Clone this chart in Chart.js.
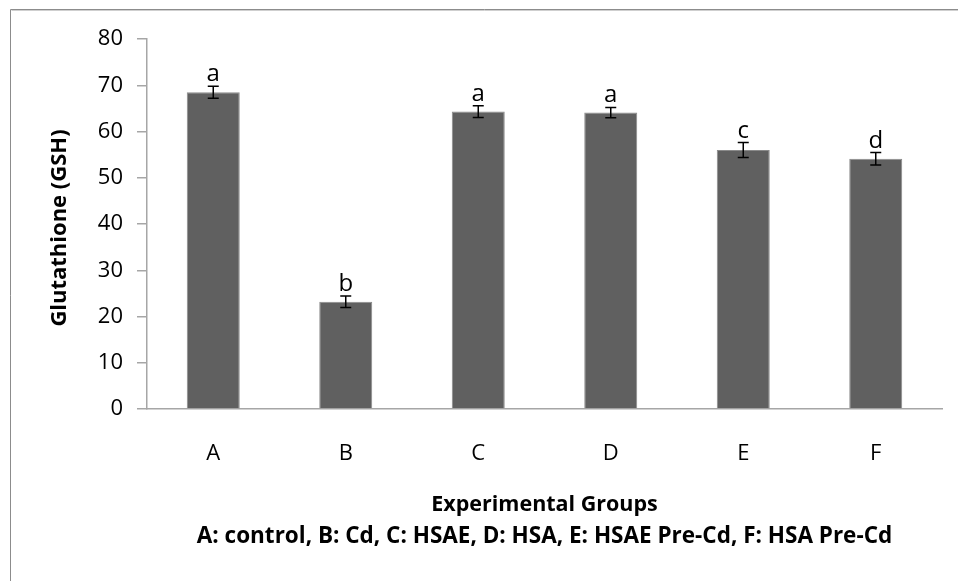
<!DOCTYPE html>
<html>
<head>
<meta charset="utf-8">
<script src="https://cdn.jsdelivr.net/npm/chart.js@4/dist/chart.umd.min.js"></script>
<style>
  html, body { margin: 0; padding: 0; background: #ffffff; }
  #wrap { width: 958px; height: 581px; position: relative; }
</style>
</head>
<body>
<div id="wrap"><canvas id="c" width="958" height="581"></canvas></div>
<script>
const categories = ['A', 'B', 'C', 'D', 'E', 'F'];
const gshValues = [68.5, 23.2, 64.3, 64.1, 56.0, 54.1];
const gshErrors = [1.3, 1.25, 1.25, 1.1, 1.6, 1.35];
const sigLetters = ['a', 'b', 'a', 'a', 'c', 'd'];
const yTicks = [0, 10, 20, 30, 40, 50, 60, 70, 80];
const yTitle = 'Glutathione (GSH)';
const xTitleLines = ['Experimental Groups', 'A: control, B: Cd, C: HSAE, D: HSA, E: HSAE Pre-Cd, F: HSA Pre-Cd'];

const FONT = '"Open Sans", "DejaVu Sans", sans-serif';
const AXIS_GRAY = '#a6a6a6';

const framePlugin = {
  id: 'frame',
  beforeDraw(chart) {
    const ctx = chart.ctx;
    ctx.save();
    ctx.strokeStyle = '#8c8c8c';
    ctx.lineWidth = 1;
    ctx.beginPath();
    ctx.moveTo(10.5, chart.height);
    ctx.lineTo(10.5, 9.5);
    ctx.lineTo(chart.width, 9.5);
    ctx.stroke();
    ctx.strokeStyle = '#cfcfcf';
    ctx.beginPath();
    ctx.moveTo(chart.width, 10.5);
    ctx.lineTo(11.5, 10.5);
    ctx.stroke();
    ctx.restore();
  }
};

const errorPlugin = {
  id: 'errorBars',
  afterDatasetsDraw(chart) {
    const ctx = chart.ctx;
    const meta = chart.getDatasetMeta(0);
    const ys = chart.scales.y;
    ctx.save();
    ctx.strokeStyle = '#000000';
    ctx.lineWidth = 1.5;
    ctx.fillStyle = '#000000';
    ctx.font = '24px ' + FONT;
    ctx.textAlign = 'center';
    ctx.textBaseline = 'alphabetic';
    meta.data.forEach((bar, i) => {
      const x = bar.x;
      const top = ys.getPixelForValue(gshValues[i] + gshErrors[i]);
      const bot = ys.getPixelForValue(gshValues[i] - gshErrors[i]);
      const cap = 5.5;
      ctx.beginPath();
      ctx.moveTo(x, top); ctx.lineTo(x, bot);
      ctx.moveTo(x - cap, top); ctx.lineTo(x + cap, top);
      ctx.moveTo(x - cap, bot); ctx.lineTo(x + cap, bot);
      ctx.stroke();
      ctx.fillText(sigLetters[i], x, top - 5);
    });
    ctx.restore();
  }
};

const titlesPlugin = {
  id: 'titles',
  afterDraw(chart) {
    const ctx = chart.ctx;
    const area = chart.chartArea;
    ctx.save();
    ctx.fillStyle = '#000000';
    ctx.textAlign = 'center';
    ctx.textBaseline = 'middle';
    ctx.font = 'bold 22px ' + FONT;
    ctx.translate(60, (area.top + area.bottom) / 2 + 4);
    ctx.rotate(-Math.PI / 2);
    ctx.fillText(yTitle, 0, 0);
    ctx.restore();

    ctx.save();
    ctx.fillStyle = '#000000';
    ctx.textAlign = 'center';
    ctx.textBaseline = 'middle';
    const cx = (area.left + area.right) / 2;
    ctx.font = 'bold 21.5px ' + FONT;
    ctx.fillText(xTitleLines[0], cx, 505);
    ctx.font = 'bold 22.5px ' + FONT;
    ctx.fillText(xTitleLines[1], cx, 537);
    ctx.restore();
  }
};

new Chart(document.getElementById('c'), {
  type: 'bar',
  data: {
    labels: categories,
    datasets: [{
      data: gshValues,
      backgroundColor: '#606060',
      borderColor: '#8a8a8a',
      borderWidth: 1,
      barPercentage: 0.4,
      categoryPercentage: 1.0
    }]
  },
  options: {
    responsive: false,
    animation: false,
    devicePixelRatio: 1,
    layout: { padding: { left: 0, right: 16, top: 39, bottom: 0 } },
    plugins: {
      legend: { display: false },
      tooltip: { enabled: false },
      title: { display: false }
    },
    scales: {
      x: {
        afterFit(scale) { scale.height = 172; },
        grid: { display: false, drawTicks: false },
        border: { display: true, color: AXIS_GRAY, width: 1.5 },
        ticks: {
          color: '#000000',
          font: { family: FONT, size: 22 },
          padding: 32,
          maxRotation: 0
        }
      },
      y: {
        min: 0,
        max: 80,
        afterFit(scale) { scale.width = 147; },
        afterBuildTicks(scale) { scale.ticks = yTicks.map(v => ({ value: v })); },
        grid: {
          display: true,
          drawOnChartArea: false,
          drawTicks: true,
          tickLength: 10,
          color: AXIS_GRAY,
          lineWidth: 1.5
        },
        border: { display: true, color: AXIS_GRAY, width: 1.5 },
        ticks: {
          color: '#000000',
          font: { family: FONT, size: 22 },
          padding: 14
        }
      }
    }
  },
  plugins: [framePlugin, errorPlugin, titlesPlugin]
});
</script>
</body>
</html>
